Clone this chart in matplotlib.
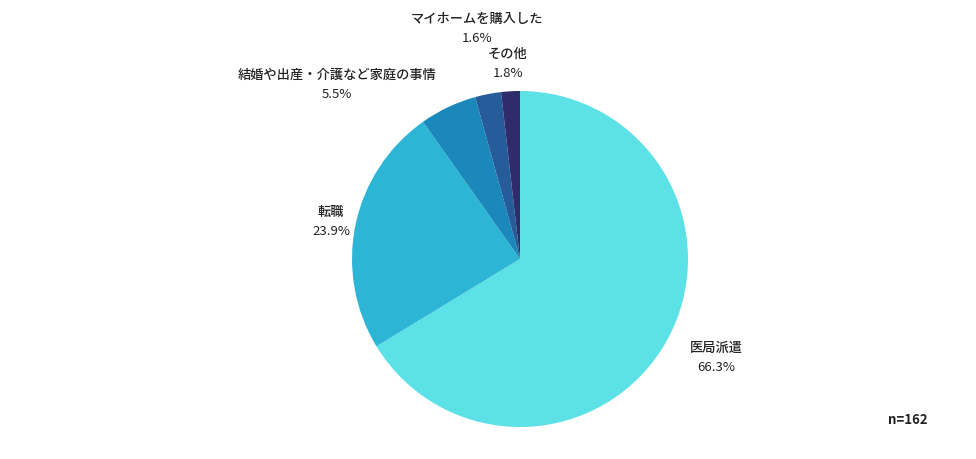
import matplotlib.pyplot as plt

plt.rcParams['font.family'] = ['Noto Sans CJK JP', 'DejaVu Sans']

categories = ['医局派遣', '転職', '結婚や出産・介護など家庭の事情', 'マイホームを購入した', 'その他']
# wedge sizes as drawn in the picture (the shown percentages sum to 99.1)
slice_values = [66.3, 23.9, 5.5, 2.5, 1.8]
label_pct = ['66.3%', '23.9%', '5.5%', '1.6%', '1.8%']
colors = ['#5ce1e6', '#2db5d5', '#1a88ba', '#265c9a', '#2e2c6a']
n_total = 162

# label block centres in data units (pie radius = 1)
label_pos = [(1.167, -0.585), (-1.125, 0.22), (-1.089, 1.04), (-0.256, 1.37), (-0.071, 1.165)]

W, H = 976, 459
cx, cy, r = 520, 259, 168
fig = plt.figure(figsize=(W / 100, H / 100), dpi=100)
ax = fig.add_axes([(cx - r) / W, (H - cy - r) / H, 2 * r / W, 2 * r / H])

ax.pie(slice_values, colors=colors, startangle=90, counterclock=False, radius=1,
       wedgeprops={'linewidth': 0})
ax.set_xlim(-1, 1)
ax.set_ylim(-1, 1)
ax.set_aspect('equal')
ax.axis('off')

for name, pct, (x, y) in zip(categories, label_pct, label_pos):
    ax.text(x, y + 0.058, name, ha='center', va='center', fontsize=9.5,
            fontweight='medium', color='#222222', clip_on=False)
    ax.text(x, y - 0.058, pct, ha='center', va='center', fontsize=9.5,
            color='#222222', clip_on=False)

fig.text(908 / W, 1 - 420 / H, f'n={n_total}', ha='center', va='center',
         fontsize=9.5, fontweight='bold', color='#222222')

fig.savefig('out.png', dpi=100)
